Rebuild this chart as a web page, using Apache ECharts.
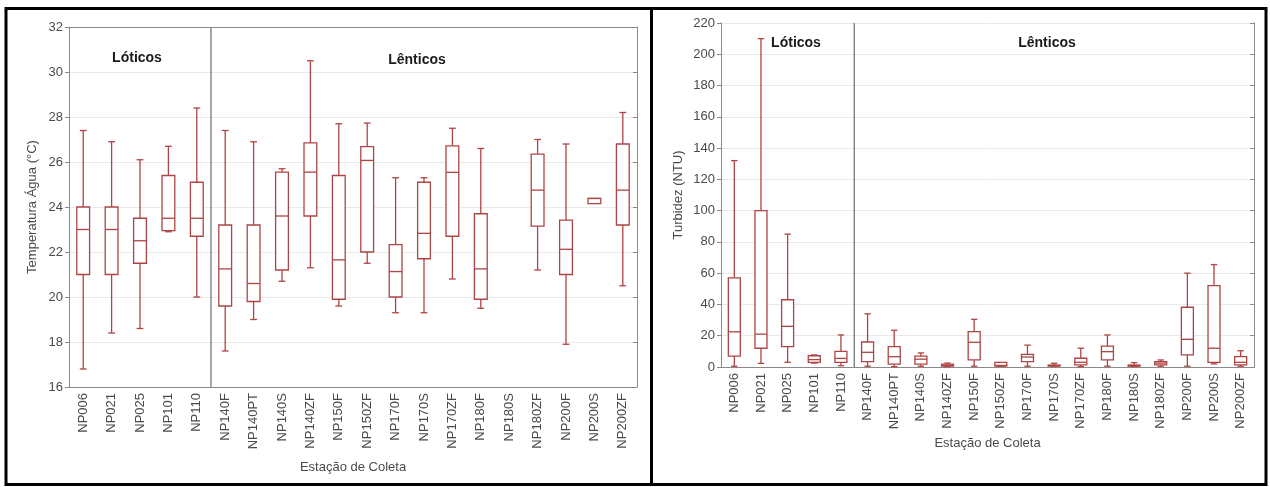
<!DOCTYPE html>
<html>
<head>
<meta charset="utf-8">
<script src="https://cdn.jsdelivr.net/npm/echarts@6/dist/echarts.min.js"></script>
<style>
html,body{margin:0;padding:0;background:#fff;}
#c{width:1270px;height:487px;}
</style>
</head>
<body>
<div id="c"></div>
<script>
// Stations (x categories)
const stations = ['NP006','NP021','NP025','NP101','NP110','NP140F','NP140PT','NP140S','NP140ZF','NP150F','NP150ZF','NP170F','NP170S','NP170ZF','NP180F','NP180S','NP180ZF','NP200F','NP200S','NP200ZF'];

// Temperature (°C): [min, q1, median, q3, max] per station (null = no data)
const tempStats = [
  [16.8, 21.0, 23.0, 24.0, 27.4],
  [18.4, 21.0, 23.0, 24.0, 26.9],
  [18.6, 21.5, 22.5, 23.5, 26.1],
  [22.9, 22.95, 23.5, 25.4, 26.7],
  [20.0, 22.7, 23.5, 25.1, 28.4],
  [17.6, 19.6, 21.25, 23.2, 27.4],
  [19.0, 19.8, 20.6, 23.2, 26.9],
  [20.7, 21.2, 23.6, 25.55, 25.7],
  [21.3, 23.6, 25.55, 26.85, 30.5],
  [19.6, 19.9, 21.65, 25.4, 27.7],
  [21.5, 22.0, 26.07, 26.68, 27.73],
  [19.3, 20.0, 21.13, 22.33, 25.3],
  [19.3, 21.7, 22.83, 25.1, 25.3],
  [20.8, 22.7, 25.54, 26.72, 27.5],
  [19.5, 19.9, 21.25, 23.7, 26.6],
  null,
  [21.2, 23.15, 24.75, 26.35, 27.0],
  [17.9, 21.0, 22.12, 23.42, 26.8],
  [24.15, 24.15, 24.38, 24.38, 24.38],
  [20.5, 23.2, 24.75, 26.8, 28.2]
];

// Turbidity (NTU): [min, q1, median, q3, max] per station
const turbStats = [
  [0.5, 7.0, 22.5, 57.0, 132.0],
  [2.3, 12.0, 21.0, 100.0, 210.0],
  [3.0, 13.0, 26.0, 43.0, 85.0],
  [2.5, 3.0, 4.7, 7.2, 7.7],
  [0.8, 3.0, 5.5, 10.0, 20.5],
  [0.5, 3.4, 9.4, 16.0, 34.0],
  [0.2, 1.9, 6.6, 13.0, 23.5],
  [0.5, 1.8, 5.0, 7.0, 9.0],
  [0.2, 0.5, 1.0, 1.8, 2.5],
  [0.5, 4.5, 15.8, 22.6, 30.5],
  [0.5, 0.6, 1.0, 3.0, 3.0],
  [0.5, 3.4, 6.4, 8.1, 14.0],
  [0.5, 0.8, 1.0, 1.2, 2.4],
  [0.3, 1.3, 3.0, 5.6, 12.0],
  [0.5, 4.5, 9.8, 13.4, 20.5],
  [0.3, 0.5, 1.0, 1.2, 2.8],
  [0.5, 1.3, 2.5, 3.5, 4.5],
  [0.5, 7.7, 17.7, 38.2, 60.0],
  [2.0, 3.0, 12.0, 52.0, 65.5],
  [0.5, 1.3, 3.0, 6.6, 10.4]
];

// Group division: first 5 stations are lotic, rest lentic
const loticCount = 5;
const groupLabels = ['Lóticos', 'Lênticos'];

const tempTicks = {min: 16, max: 32, interval: 2};
const turbTicks = {min: 0, max: 220, interval: 20};

const boxColor = '#ae4444';
const axisColor = '#8a8a8a';
const labelColor = '#4a4a4a';
const fontFam = '"Liberation Sans", Arial, sans-serif';

function toData(stats) {
  const out = [];
  stats.forEach((s, i) => { if (s) out.push([i].concat(s)); });
  return out;
}

function renderBox(params, api) {
  const x = api.value(0);
  const band = api.size([1, 0])[0];
  const bw = band * 0.45;
  const cw = band * 0.24;
  const pMin = api.coord([x, api.value(1)]);
  const pQ1 = api.coord([x, api.value(2)]);
  const pMed = api.coord([x, api.value(3)]);
  const pQ3 = api.coord([x, api.value(4)]);
  const pMax = api.coord([x, api.value(5)]);
  const cx = pMed[0];
  const st = {stroke: boxColor, lineWidth: 1.3, fill: null};
  const children = [];
  if (pMax[1] < pQ3[1]) {
    children.push({type: 'line', shape: {x1: cx, y1: pMax[1], x2: cx, y2: pQ3[1]}, style: st});
    children.push({type: 'line', shape: {x1: cx - cw / 2, y1: pMax[1], x2: cx + cw / 2, y2: pMax[1]}, style: st});
  }
  if (pMin[1] > pQ1[1]) {
    children.push({type: 'line', shape: {x1: cx, y1: pQ1[1], x2: cx, y2: pMin[1]}, style: st});
    children.push({type: 'line', shape: {x1: cx - cw / 2, y1: pMin[1], x2: cx + cw / 2, y2: pMin[1]}, style: st});
  }
  children.push({type: 'rect', shape: {x: cx - bw / 2, y: pQ3[1], width: bw, height: Math.max(pQ1[1] - pQ3[1], 1)}, style: {stroke: boxColor, lineWidth: 1.3, fill: '#fff'}});
  children.push({type: 'line', shape: {x1: cx - bw / 2, y1: pMed[1], x2: cx + bw / 2, y2: pMed[1]}, style: st});
  return {type: 'group', children: children};
}

function renderDivider(params, api) {
  const band = api.size([1, 0])[0];
  const p = api.coord([api.value(0), api.value(1)]);
  const p2 = api.coord([api.value(0), api.value(2)]);
  const x = p[0] + band / 2;
  return {type: 'line', shape: {x1: x, y1: p[1], x2: x, y2: p2[1]}, style: {stroke: '#777', lineWidth: 1.3}};
}

function catAxes(gridIndex, name, nameGap) {
  return [
    {
      type: 'category', gridIndex: gridIndex, data: stations, position: 'bottom',
      name: name, nameLocation: 'middle', nameGap: nameGap,
      nameTextStyle: {color: labelColor, fontSize: 13, fontFamily: fontFam},
      axisLine: {lineStyle: {color: axisColor, width: 1}},
      axisTick: {alignWithLabel: true, length: 4, lineStyle: {color: axisColor}},
      axisLabel: {rotate: 90, color: labelColor, fontSize: 13, fontFamily: fontFam, margin: 6, interval: 0},
      splitLine: {show: false}
    },
    {
      type: 'category', gridIndex: gridIndex, data: stations, position: 'top',
      axisLine: {lineStyle: {color: axisColor, width: 1}},
      axisTick: {alignWithLabel: true, inside: true, length: 4, lineStyle: {color: axisColor}},
      axisLabel: {show: false}, splitLine: {show: false}
    }
  ];
}

function valAxes(gridIndex, ticks, name, nameGap) {
  return [
    {
      type: 'value', gridIndex: gridIndex, position: 'left',
      min: ticks.min, max: ticks.max, interval: ticks.interval,
      name: name, nameLocation: 'middle', nameGap: nameGap, nameRotate: 90,
      nameTextStyle: {color: labelColor, fontSize: 13, fontFamily: fontFam},
      axisLine: {show: true, lineStyle: {color: axisColor, width: 1}},
      axisTick: {show: true, length: 4, lineStyle: {color: axisColor}},
      axisLabel: {color: labelColor, fontSize: 13, fontFamily: fontFam, margin: 6},
      splitLine: {show: true, lineStyle: {color: '#e9e9e9', width: 1}}
    },
    {
      type: 'value', gridIndex: gridIndex, position: 'right',
      min: ticks.min, max: ticks.max, interval: ticks.interval,
      axisLine: {show: true, lineStyle: {color: axisColor, width: 1}},
      axisTick: {show: true, inside: true, length: 4, lineStyle: {color: axisColor}},
      axisLabel: {show: false}, splitLine: {show: false}
    }
  ];
}

const chart = echarts.init(document.getElementById('c'), null, {renderer: 'canvas'});

const txt = (t, x, y) => ({
  type: 'text', x: x, y: y, z: 10,
  style: {text: t, font: 'bold 14px ' + fontFam, fill: '#1a1a1a', align: 'center', verticalAlign: 'middle'}
});

chart.setOption({
  animation: false,
  backgroundColor: '#fff',
  grid: [
    {left: 69, top: 27, width: 568, height: 360},
    {left: 721, top: 23, width: 533, height: 344}
  ],
  xAxis: catAxes(0, 'Estação de Coleta', 74).concat(catAxes(1, 'Estação de Coleta', 69)),
  yAxis: valAxes(0, tempTicks, 'Temperatura Água (°C)', 30).concat(valAxes(1, turbTicks, 'Turbidez (NTU)', 36)),
  series: [
    {type: 'custom', xAxisIndex: 0, yAxisIndex: 0, renderItem: renderDivider, data: [[loticCount - 1, tempTicks.min, tempTicks.max]], z: 1},
    {type: 'custom', xAxisIndex: 0, yAxisIndex: 0, renderItem: renderBox, data: toData(tempStats), z: 2},
    {type: 'custom', xAxisIndex: 2, yAxisIndex: 2, renderItem: renderDivider, data: [[loticCount - 1, turbTicks.min, turbTicks.max]], z: 1},
    {type: 'custom', xAxisIndex: 2, yAxisIndex: 2, renderItem: renderBox, data: toData(turbStats), z: 2}
  ],
  graphic: [
    {type: 'rect', shape: {x: 6, y: 8.5, width: 1260, height: 476}, style: {fill: null, stroke: '#000', lineWidth: 3}, z: 20},
    {type: 'line', shape: {x1: 651.5, y1: 8, x2: 651.5, y2: 485}, style: {stroke: '#000', lineWidth: 3}, z: 20},
    txt(groupLabels[0], 137, 58),
    txt(groupLabels[1], 417, 60),
    txt(groupLabels[0], 796, 43),
    txt(groupLabels[1], 1047, 43)
  ]
});
</script>
</body>
</html>
